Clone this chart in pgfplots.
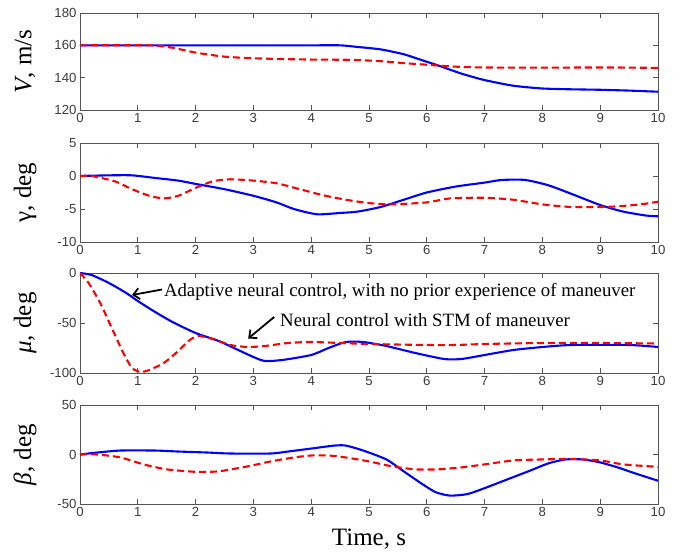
\documentclass[border=0pt]{standalone}
\usepackage{pgfplots}
\pgfplotsset{compat=1.18}
\usepackage{fontspec}
\setmainfont{Liberation Serif}
\newfontfamily\arialf{Liberation Sans}
\usetikzlibrary{arrows.meta}
\definecolor{axgray}{RGB}{85,85,85}
\definecolor{tickgray}{RGB}{60,60,60}
\pgfplotsset{
  panel/.style={
    scale only axis, width=578pt, xmin=0, xmax=10,
    xtick={0,1,...,10},
    tick align=inside, major tick length=5pt,
    axis line style={axgray, line width=0.9pt},
    every tick/.style={axgray, line width=0.8pt},
    tick label style={font=\arialf\fontsize{13.2}{14}\selectfont, text=tickgray},
    /pgf/number format/assume math mode=true,
    ylabel style={at={(axis description cs:-0.095,0.5)}, rotate=0, anchor=center, font=\fontsize{25}{28}\selectfont},
    clip=true,
  },
  bl/.style={color={rgb,255:red,0;green,0;blue,255}, line width=2.1pt, smooth, tension=0.4, no markers},
  rd/.style={color={rgb,255:red,255;green,0;blue,0}, line width=2.1pt, dash pattern=on 7pt off 4pt, smooth, tension=0.4, no markers},
}
\begin{document}
\begin{tikzpicture}[x=1pt,y=1pt]
% Panel 1: V
\begin{axis}[panel, at={(80pt,447pt)}, anchor=south west, height=97pt,
  ymin=120, ymax=180, ytick={120,140,160,180},
  ylabel={{\itshape V}, m/s}]
\addplot[bl] coordinates {(0,160) (1,160) (2,160) (3,160) (4,160) (4.5,160) (4.8,159) (5.2,157.5) (5.6,154.5) (5.9,151) (6.2,147.5) (6.6,142.5) (7,138.5) (7.5,135) (8,133.3) (8.5,132.8) (9,132.5) (9.5,132) (10,131.3)};
\addplot[rd] coordinates {(0,160) (1.2,160) (1.6,158.5) (2,155.5) (2.5,153) (3,152) (3.5,151.5) (4,151.2) (4.7,151) (5.2,150.2) (5.6,149) (6,148) (6.5,146.8) (7,146.3) (8,146.2) (9,146.3) (9.6,146.2) (10,146)};
\end{axis}
% Panel 2: gamma
\begin{axis}[panel, at={(80pt,315pt)}, anchor=south west, height=99pt,
  ymin=-10, ymax=5, ytick={-10,-5,0,5},
  ylabel={γ, deg}]
\addplot[bl] coordinates {(0,0) (0.5,0.1) (0.9,0.1) (1.3,-0.3) (1.7,-0.7) (2,-1.2) (2.5,-2) (3,-3) (3.4,-4) (3.7,-5) (4.1,-5.8) (4.5,-5.6) (4.8,-5.4) (5.2,-4.7) (5.6,-3.6) (6,-2.5) (6.5,-1.6) (7,-1) (7.3,-0.6) (7.7,-0.6) (8.1,-1.4) (8.5,-2.7) (9,-4.4) (9.4,-5.4) (9.8,-6) (10,-6.1)};
\addplot[rd] coordinates {(0,0) (0.2,0) (0.6,-0.8) (0.9,-2) (1.2,-3) (1.45,-3.4) (1.7,-3) (2,-1.8) (2.3,-0.8) (2.6,-0.5) (3,-0.7) (3.4,-1.1) (3.8,-2) (4.2,-2.9) (4.6,-3.6) (5,-4.1) (5.4,-4.3) (6,-4) (6.4,-3.4) (7,-3.3) (7.5,-3.6) (8,-4.3) (8.5,-4.7) (9,-4.7) (9.3,-4.6) (9.7,-4.3) (10,-3.9)};
\end{axis}
% Panel 3: mu
\begin{axis}[panel, at={(80pt,184pt)}, anchor=south west, height=100pt,
  ymin=-100, ymax=0, ytick={-100,-50,0},
  ylabel={{\itshape μ}, deg}]
\addplot[bl] coordinates {(0,0) (0.2,-2) (0.5,-10) (0.8,-20) (1,-28) (1.3,-39) (1.6,-49) (2,-60) (2.4,-68) (2.7,-76) (3,-84) (3.2,-88) (3.5,-87) (4,-82) (4.3,-75) (4.6,-69) (4.9,-69) (5.3,-73) (5.8,-80) (6.3,-86) (6.6,-86) (7,-82) (7.5,-77) (8,-74) (8.5,-72) (9.5,-72) (10,-74)};
\addplot[rd] coordinates {(0,0) (0.15,-10) (0.35,-30) (0.55,-55) (0.75,-80) (0.9,-95) (1.05,-99) (1.2,-97) (1.45,-90) (1.7,-78) (1.9,-67) (2.05,-63) (2.3,-66) (2.6,-72) (2.9,-74) (3.2,-73) (3.6,-70) (4,-69) (4.5,-70) (5,-71) (6,-72) (6.5,-72) (7,-71) (8,-70) (9,-70) (10,-70.5)};
\draw[-{Straight Barb[length=6pt,width=11pt]}, line width=1.8pt] (axis cs:1.42,-16.5) -- (axis cs:0.9,-22);
\node[anchor=west, inner sep=0pt, font=\fontsize{18.8}{20}\selectfont] at (axis cs:1.45,-19) {Adaptive neural control, with no prior experience of maneuver};
\draw[-{Straight Barb[length=6pt,width=11pt]}, line width=1.8pt] (axis cs:3.36,-44) -- (axis cs:2.91,-65.5);
\node[anchor=west, inner sep=0pt, font=\fontsize{18.8}{20}\selectfont] at (axis cs:3.46,-47) {Neural control with STM of maneuver};
\end{axis}
% Panel 4: beta
\begin{axis}[panel, at={(80pt,53pt)}, anchor=south west, height=99pt,
  ymin=-50, ymax=50, ytick={-50,0,50},
  ylabel={{\itshape β}, deg},
  xlabel={Time, s},
  xlabel style={at={(axis description cs:0.5,-0.36)}, anchor=center, font=\fontsize{25}{28}\selectfont}]
\addplot[bl] coordinates {(0,0) (0.3,2) (0.7,4) (1.3,4) (1.7,3) (2.2,2) (2.6,1) (3.3,1) (3.6,3) (4,6) (4.4,9) (4.6,9) (4.9,4) (5.3,-5) (5.6,-17) (5.9,-29) (6.15,-38) (6.4,-41.5) (6.7,-40) (7,-34) (7.4,-25) (7.8,-16) (8.1,-9) (8.4,-5) (8.7,-5) (9,-8) (9.3,-13) (9.6,-19) (10,-26.5)};
\addplot[rd] coordinates {(0,0) (0.3,0) (0.7,-3) (1.1,-10) (1.5,-15) (2,-17.5) (2.4,-17) (2.9,-12) (3.3,-7) (3.7,-3) (4,-1) (4.3,-1) (4.6,-3) (5,-7) (5.4,-12) (5.8,-15) (6.2,-15) (6.6,-13) (7,-10) (7.5,-6) (8,-5) (8.5,-4.5) (9,-6) (9.4,-10) (10,-12.5)};
\end{axis}
\pgfresetboundingbox
\path (0,0) rectangle (680,557);
\end{tikzpicture}
\end{document}
